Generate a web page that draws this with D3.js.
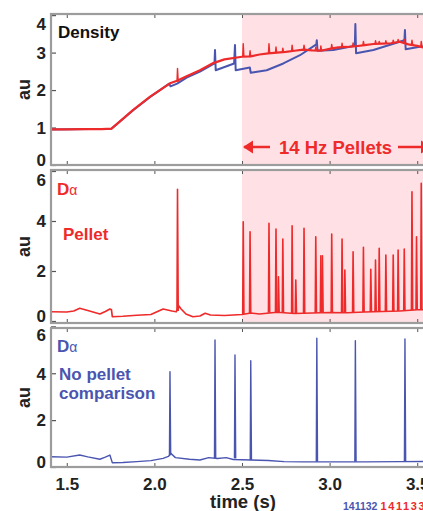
<!DOCTYPE html>
<html>
<head>
<meta charset="utf-8">
<script src="https://cdn.jsdelivr.net/npm/d3@7"></script>
<style>
  body { margin: 0; background: #fff; }
  svg { display: block; }
  .tick text { font-family: "Liberation Sans", Arial, sans-serif; font-weight: bold; fill: #222; }
</style>
</head>
<body>
<script>
// time axis + y ticks
const timeTicks = [1.5, 2.0, 2.5, 3.0, 3.5];
const densityTicks = [0, 1, 2, 3, 4];
const dalphaTicks = [0, 2, 4, 6];
const pelletStart = 2.5;

// density, shot with pellets (red) - slow trace
const densityPellet = [
  [1.41, 0.95], [1.50, 0.95], [1.60, 0.96], [1.70, 0.96], [1.755, 0.97], [1.80, 1.15],
  [1.879, 1.47], [1.974, 1.82], [2.089, 2.18], [2.13, 2.25], [2.184, 2.37], [2.26, 2.53],
  [2.336, 2.72], [2.40, 2.82], [2.50, 2.89], [2.55, 2.90], [2.60, 2.95], [2.65, 2.98],
  [2.70, 3.00], [2.75, 3.02], [2.80, 3.05], [2.85, 3.08], [2.90, 3.06], [2.95, 3.05],
  [3.00, 3.10], [3.05, 3.14], [3.10, 3.15], [3.15, 3.17], [3.20, 3.20], [3.25, 3.23],
  [3.30, 3.24], [3.35, 3.25], [3.40, 3.29], [3.45, 3.22], [3.50, 3.18], [3.55, 3.12], [3.63, 3.12]
];
// [time, base, peak]
const densityPelletSpikes = [
  [2.132, 2.22, 2.58], [2.507, 2.89, 3.24], [2.546, 2.90, 3.05], [2.654, 2.98, 3.24],
  [2.694, 3.00, 3.15], [2.733, 3.01, 3.12], [2.786, 3.04, 3.20], [2.854, 3.08, 3.20],
  [2.921, 3.05, 3.15], [2.950, 3.05, 3.18], [3.012, 3.11, 3.22], [3.071, 3.14, 3.25],
  [3.134, 3.16, 3.26], [3.193, 3.20, 3.30], [3.262, 3.23, 3.32], [3.283, 3.24, 3.30],
  [3.321, 3.24, 3.32], [3.363, 3.26, 3.33], [3.391, 3.28, 3.35], [3.426, 3.27, 3.35],
  [3.470, 3.21, 3.33], [3.523, 3.16, 3.30]
];

// density, no pellet comparison (blue) - sawtooth with ELM spikes
const densityNoPellet = [
  [1.41, 0.95], [1.755, 0.97], [1.80, 1.15], [1.879, 1.46], [1.974, 1.81], [2.085, 2.17],
  [2.092, 2.10], [2.13, 2.17], [2.184, 2.33], [2.26, 2.49], [2.343, 2.71], [2.346, 3.07],
  [2.350, 2.53], [2.455, 2.71], [2.460, 3.20], [2.464, 2.53], [2.545, 2.60], [2.550, 2.46],
  [2.641, 2.53], [2.736, 2.71], [2.831, 2.93], [2.924, 3.22], [2.927, 3.33], [2.931, 3.05],
  [3.021, 3.07], [3.144, 3.18], [3.147, 3.76], [3.151, 2.98], [3.25, 3.07], [3.40, 3.29],
  [3.427, 3.33], [3.430, 3.60], [3.434, 3.09], [3.523, 3.16], [3.63, 3.18]
];

// D-alpha, pellet shot (red)
const dalphaPellet = [
  [1.41, 0.37], [1.50, 0.36], [1.54, 0.40], [1.574, 0.51], [1.62, 0.42], [1.689, 0.28],
  [1.72, 0.38], [1.746, 0.48], [1.755, 0.45], [1.76, 0.17], [1.82, 0.19], [1.90, 0.23],
  [1.98, 0.26], [2.05, 0.48], [2.10, 0.40], [2.125, 0.37], [2.14, 0.60], [2.15, 0.50],
  [2.18, 0.28], [2.22, 0.17], [2.26, 0.20], [2.29, 0.31], [2.32, 0.24], [2.40, 0.22],
  [2.50, 0.26], [2.55, 0.32], [2.60, 0.28], [2.70, 0.35], [2.80, 0.30], [2.90, 0.32],
  [3.00, 0.34], [3.10, 0.33], [3.20, 0.36], [3.30, 0.38], [3.40, 0.40], [3.50, 0.45], [3.63, 0.45]
];
const dalphaPelletSpikes = [
  [2.132, 0.40, 5.27], [2.507, 0.28, 3.97], [2.546, 0.30, 3.57], [2.654, 0.33, 3.91],
  [2.694, 0.35, 3.68], [2.708, 0.35, 1.77], [2.733, 0.34, 3.28], [2.786, 0.31, 3.81],
  [2.807, 0.31, 1.64], [2.854, 0.31, 3.71], [2.921, 0.32, 3.37], [2.950, 0.32, 2.61],
  [2.959, 0.32, 2.61], [3.012, 0.34, 3.48], [3.071, 0.33, 3.28], [3.087, 0.33, 2.04],
  [3.134, 0.33, 2.77], [3.193, 0.36, 2.95], [3.235, 0.36, 2.07], [3.262, 0.37, 2.44],
  [3.283, 0.37, 2.91], [3.321, 0.38, 2.64], [3.363, 0.39, 2.64], [3.391, 0.40, 2.84],
  [3.426, 0.41, 2.88], [3.470, 0.43, 5.17], [3.496, 0.44, 3.37], [3.523, 0.45, 5.51]
];

// D-alpha, no pellet comparison (blue)
const dalphaNoPellet = [
  [1.41, 0.44], [1.50, 0.42], [1.574, 0.51], [1.62, 0.43], [1.689, 0.33], [1.72, 0.42],
  [1.746, 0.51], [1.76, 0.18], [1.82, 0.19], [1.90, 0.23], [1.98, 0.27], [2.05, 0.37],
  [2.08, 0.45], [2.095, 0.58], [2.12, 0.40], [2.20, 0.33], [2.26, 0.30], [2.31, 0.40],
  [2.36, 0.36], [2.41, 0.40], [2.45, 0.32], [2.55, 0.30], [2.65, 0.28], [2.74, 0.23],
  [2.85, 0.22], [3.00, 0.22], [3.20, 0.22], [3.40, 0.23], [3.63, 0.24]
];
const dalphaNoPelletSpikes = [
  [2.089, 0.50, 4.07], [2.346, 0.38, 5.42], [2.460, 0.36, 4.78], [2.550, 0.30, 4.53],
  [2.927, 0.22, 5.49], [3.147, 0.22, 5.39], [3.430, 0.23, 5.46]
];

const W = 423, H = 511;
const red = "#ee2a2a", blue = "#4a55b0", pink = "#ffe1e5", frameCol = "#9c9c9c";

const svg = d3.select("body").append("svg")
  .attr("width", W).attr("height", H);

const x = d3.scaleLinear().domain([1.41, 3.63]).range([51, 440]);

const panels = [
  {top: 14, bottom: 165, dom: [0, 4.03], ticks: densityTicks, shade: true},
  {top: 170, bottom: 323, dom: [-0.08, 6.04], ticks: dalphaTicks, shade: true},
  {top: 328, bottom: 467, dom: [0, 5.93], ticks: dalphaTicks, shade: false}
];

const spikePts = d => [[d[0] - 0.003, d[1]], [d[0], d[2]], [d[0] + 0.004, d[1]]];

panels.forEach((p, i) => {
  p.y = d3.scaleLinear().domain(p.dom).range([p.bottom, p.top]);
  const g = svg.append("g");
  p.g = g;

  svg.append("clipPath").attr("id", "clip" + i)
    .append("rect")
    .attr("x", x.range()[0]).attr("y", p.top)
    .attr("width", x.range()[1] - x.range()[0]).attr("height", p.bottom - p.top);

  if (p.shade) {
    g.append("rect")
      .attr("x", x(pelletStart)).attr("y", p.top)
      .attr("width", x.range()[1] - x(pelletStart)).attr("height", p.bottom - p.top)
      .attr("fill", pink);
  }

  // y axis, ticks pointing inward
  const ya = g.append("g")
    .attr("transform", `translate(${x.range()[0]},0)`)
    .call(d3.axisLeft(p.y).tickValues(p.ticks).tickFormat(d3.format("d"))
      .tickSizeInner(-5).tickSizeOuter(0).tickPadding(5));
  ya.select(".domain").remove();
  ya.selectAll(".tick line").attr("stroke", "#555").attr("stroke-width", 1.2);
  ya.selectAll(".tick text").style("font-size", "17px")
    .attr("dy", d => d === p.ticks[p.ticks.length - 1] ? "0.85em" : (d === 0 ? "0.05em" : "0.34em"));

  // x ticks top and bottom of each panel
  const xb = g.append("g")
    .attr("transform", `translate(0,${p.bottom})`)
    .call(d3.axisBottom(x).tickValues(timeTicks).tickFormat(d3.format(".1f"))
      .tickSizeInner(-4).tickSizeOuter(0).tickPadding(11));
  xb.select(".domain").remove();
  xb.selectAll(".tick line").attr("stroke", "#555");
  xb.selectAll(".tick text").style("font-size", "17px");
  if (i < 2) xb.selectAll(".tick text").remove();

  const xt = g.append("g")
    .attr("transform", `translate(0,${p.top})`)
    .call(d3.axisTop(x).tickValues(timeTicks).tickFormat("")
      .tickSizeInner(-4).tickSizeOuter(0));
  xt.select(".domain").remove();
  xt.selectAll(".tick line").attr("stroke", "#555");

  // au label
  g.append("text")
    .attr("transform", `translate(30,${(p.top + p.bottom) / 2}) rotate(-90)`)
    .attr("text-anchor", "middle")
    .style("font-family", "Liberation Sans, Arial, sans-serif")
    .style("font-weight", "bold").style("font-size", "18px").attr("fill", "#222")
    .text("au");
});

function drawTrace(p, i, pts, color, w) {
  const line = d3.line().x(d => x(d[0])).y(d => p.y(d[1]));
  p.g.append("path")
    .datum(pts)
    .attr("clip-path", `url(#clip${i})`)
    .attr("d", line)
    .attr("fill", "none").attr("stroke", color)
    .attr("stroke-width", w).attr("stroke-linejoin", "round");
}
function drawSpikes(p, i, spikes, color, w) {
  spikes.forEach(s => drawTrace(p, i, spikePts(s), color, w));
}

// panel 1 traces
drawTrace(panels[0], 0, densityNoPellet, blue, 2);
drawTrace(panels[0], 0, densityPellet, red, 2.2);
drawSpikes(panels[0], 0, densityPelletSpikes, red, 1.4);

// panel 2
drawTrace(panels[1], 1, dalphaPellet, red, 1.7);
drawSpikes(panels[1], 1, dalphaPelletSpikes, red, 1.6);

// panel 3
drawTrace(panels[2], 2, dalphaNoPellet, blue, 1.4);
drawSpikes(panels[2], 2, dalphaNoPelletSpikes, blue, 1.4);

// frames
panels.forEach(p => {
  svg.append("rect")
    .attr("x", x.range()[0]).attr("y", p.top)
    .attr("width", x.range()[1] - x.range()[0]).attr("height", p.bottom - p.top)
    .attr("fill", "none").attr("stroke", frameCol).attr("stroke-width", 2.2);
});

const font = "Liberation Sans, Arial, sans-serif";
function label(xp, yp, txt, color, size) {
  return svg.append("text").attr("x", xp).attr("y", yp)
    .style("font-family", font).style("font-weight", "bold")
    .style("font-size", size + "px").attr("fill", color).text(txt);
}

label(58, 38, "Density", "#111", 17);

// 14 Hz pellets annotation with arrows
const ay = 147;
const arrow = svg.append("g").attr("stroke", red).attr("fill", red);
arrow.append("line").attr("x1", x(pelletStart) + 2).attr("x2", 270).attr("y1", ay).attr("y2", ay).attr("stroke-width", 2.5);
arrow.append("path").attr("d", `M${x(pelletStart) + 1},${ay} l10,-6.5 l0,13 z`).attr("stroke", "none");
arrow.append("line").attr("x1", 398).attr("x2", 430).attr("y1", ay).attr("y2", ay).attr("stroke-width", 2.5);
arrow.append("path").attr("d", `M${431},${ay} l-10,-6.5 l0,13 z`).attr("stroke", "none");
label(279, 154, "14 Hz Pellets", red, 18.5);

function dAlpha(xp, yp, color) {
  const t = label(xp, yp, "D", color, 17);
  t.append("tspan").style("font-weight", "normal").style("font-size", "14px").text("α");
}
dAlpha(57, 195, red);
label(63, 240, "Pellet", red, 17);

dAlpha(57, 352, blue);
label(59, 380, "No pellet", blue, 17);
label(59, 399, "comparison", blue, 17);

label(243, 508, "time (s)", "#222", 18.5).attr("text-anchor", "middle");

const shots = label(343, 510, "141132", blue, 10.5);
shots.append("tspan").attr("dx", 3).attr("fill", red).style("font-size", "11px")
  .style("letter-spacing", "1.6px").text("141133");
</script>
</body>
</html>
